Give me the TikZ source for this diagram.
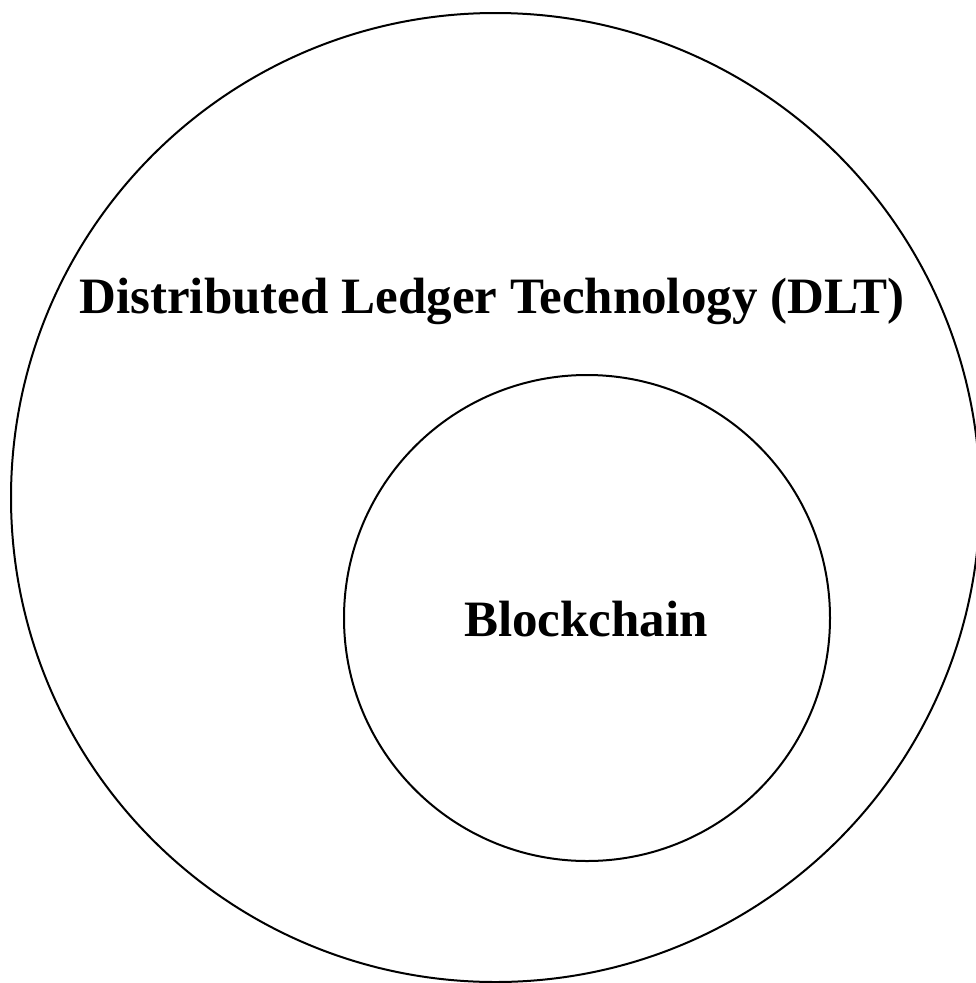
\documentclass[tikz,border=0pt]{standalone}
\usepackage{fontspec}
\setmainfont{Liberation Serif}
\begin{document}
\begin{tikzpicture}[x=1pt,y=-1pt,
  ring/.style={draw=black,line width=2pt},
  label/.style={font=\fontsize{51}{58}\selectfont\bfseries,inner sep=0pt,anchor=base}]
\useasboundingbox (0,0) rectangle (976,983);
\begin{scope}
\clip (0,0) rectangle (976,983);
\draw[ring] (495.5,497.5) circle[radius=484.5];
\end{scope}
\draw[ring] (587,618) circle[radius=243];
\node[label] (dlt) at (492,313) {Distributed Ledger Technology (DLT)};
\node[label] (bc) at (586,636) {Blockchain};
\end{tikzpicture}
\end{document}
